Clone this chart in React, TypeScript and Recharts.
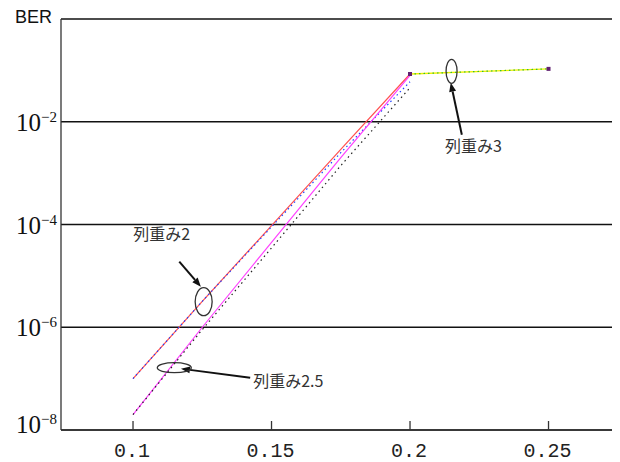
import React from "react";
import {
  LineChart,
  Line,
  XAxis,
  YAxis,
  CartesianGrid,
  ReferenceDot,
  ReferenceLine,
} from "recharts";

// column weight 2 / 2.5 share the same x positions
const snrX = [0.1, 0.125, 0.15, 0.175, 0.2];
const w2Red = [1.0e-7, 3.2e-6, 9.5e-5, 2.9e-3, 8.5e-2];
const w2Blue = [1.0e-7, 3.2e-6, 9.0e-5, 2.5e-3, 6.0e-2];
const w25Magenta = [2.0e-8, 1.0e-6, 4.5e-5, 2.0e-3, 8.0e-2];
const w25Black = [2.0e-8, 9.0e-7, 3.5e-5, 1.4e-3, 4.6e-2];

// column weight 3
const w3X = [0.2, 0.25];
const w3Yellow = [8.5e-2, 1.07e-1];
const w3Green = [8.5e-2, 1.07e-1];

const xTicks = [0.1, 0.15, 0.2, 0.25];
const xTopTicks = [0.124, 0.174, 0.224, 0.274];
const yTicks = [1e-8, 1e-6, 1e-4, 1e-2];

// annotations (data coordinates)
const labels = [
  { text: "列重み2", x: 0.1001, y: 6.6e-5 },
  { text: "列重み2.5", x: 0.1434, y: 9.1e-8 },
  { text: "列重み3", x: 0.2126, y: 3.4e-3 },
];
const ellipses = [
  { x: 0.1255, y: 3.14e-6, rx: 8.5, ry: 14 },
  { x: 0.1149, y: 1.63e-7, rx: 17, ry: 5 },
  { x: 0.215, y: 9.6e-2, rx: 5.5, ry: 12 },
];
const arrows = [
  { from: { x: 0.1167, y: 1.89e-5 }, to: { x: 0.1245, y: 6.15e-6 } },
  { from: { x: 0.1423, y: 1.04e-7 }, to: { x: 0.1173, y: 1.56e-7 } },
  { from: { x: 0.2187, y: 5.6e-3 }, to: { x: 0.2147, y: 5.75e-2 } },
];

const pts = (xs: number[], ys: number[]) => xs.map((x, i) => ({ x, y: ys[i] }));

const YTick = (props: any) => {
  const { x, y, payload } = props;
  const exp = Math.round(Math.log10(payload.value));
  const base = exp === -8 ? y + 3 : y + 9;
  return (
    <text x={x} y={base} textAnchor="end" fill="#111" fontFamily="'Liberation Serif', serif">
      <tspan fontSize={25}>10</tspan>
      <tspan fontSize={15} dy={-9}>{`\u2212${-exp}`}</tspan>
    </text>
  );
};

const XTick = (props: any) => {
  const { x, y, payload } = props;
  return (
    <text
      x={x - 1}
      y={y + 34}
      textAnchor="middle"
      fill="#222"
      fontSize={20}
      fontFamily="'Liberation Mono', monospace"
    >
      {String(payload.value)}
    </text>
  );
};

const Arrow = (props: any) => {
  const { x1, y1, x2, y2 } = props;
  const a = Math.atan2(y2 - y1, x2 - x1);
  const len = 9;
  const half = 3.5;
  const bx = x2 - len * Math.cos(a);
  const by = y2 - len * Math.sin(a);
  const p = `${x2},${y2} ${bx + half * Math.sin(a)},${by - half * Math.cos(a)} ${bx - half * Math.sin(a)},${by + half * Math.cos(a)}`;
  return (
    <g>
      <line x1={x1} y1={y1} x2={bx} y2={by} stroke="#111" strokeWidth={2} />
      <polygon points={p} fill="#111" />
    </g>
  );
};

const SquareDot = (props: any) => (
  <rect key={props.index} x={props.cx - 2} y={props.cy - 2} width={4} height={4} fill="#602070" />
);

export default function App() {
  return (
    <div style={{ position: "relative", width: 612, height: 454 }}>
      <div
        style={{
          position: "absolute",
          left: 7,
          top: 0,
          fontFamily: "'Liberation Sans', Arial, sans-serif",
          fontSize: 18,
          lineHeight: "18px",
          color: "#111",
        }}
      >
        BER
      </div>
      <LineChart width={612} height={454} margin={{ top: 11, right: 5, bottom: 0, left: 0 }}>
        <CartesianGrid vertical={false} stroke="#111" strokeWidth={1.3} />
        <XAxis
          dataKey="x"
          type="number"
          domain={[0.074, 0.274]}
          allowDataOverflow
          ticks={xTicks}
          tick={<XTick />}
          tickSize={-9}
          tickMargin={2}
          height={32}
          stroke="#333"
          strokeWidth={1.3}
        />
        <XAxis
          xAxisId="top"
          orientation="top"
          type="number"
          domain={[0.074, 0.274]}
          allowDataOverflow
          ticks={xTopTicks}
          tick={false}
          mirror
          tickSize={3}
          height={0}
          stroke="#333"
          strokeWidth={1.3}
        />
        <YAxis
          type="number"
          scale="log"
          domain={[1e-8, 1]}
          allowDataOverflow
          ticks={yTicks}
          tick={<YTick />}
          tickLine={false}
          tickSize={0}
          tickMargin={4}
          width={53}
          stroke="#333"
          strokeWidth={1.3}
        />
        <Line data={pts(snrX, w2Red)} dataKey="y" stroke="#ff5050" strokeWidth={1.2} dot={false} isAnimationActive={false} />
        <Line data={pts(snrX, w2Blue)} dataKey="y" stroke="#2040ff" strokeWidth={1.2} strokeDasharray="1.5 3" dot={false} isAnimationActive={false} />
        <Line data={pts(snrX, w25Magenta)} dataKey="y" stroke="#ff40ff" strokeWidth={1.2} dot={false} isAnimationActive={false} />
        <Line data={pts(snrX, w25Black)} dataKey="y" stroke="#222" strokeWidth={1.2} strokeDasharray="1.5 3.5" dot={false} isAnimationActive={false} />
        <Line data={pts(w3X, w3Yellow)} dataKey="y" stroke="#f0f000" strokeWidth={1.3} dot={<SquareDot />} isAnimationActive={false} />
        <Line data={pts(w3X, w3Green)} dataKey="y" stroke="#30c030" strokeWidth={1.2} strokeDasharray="1.5 3" dot={false} isAnimationActive={false} />
        {ellipses.map((e, i) => (
          <ReferenceDot
            key={`e${i}`}
            x={e.x}
            y={e.y}
            r={1}
            shape={(p: any) => (
              <ellipse cx={p.cx} cy={p.cy} rx={e.rx} ry={e.ry} fill="none" stroke="#333" strokeWidth={1.3} />
            )}
          />
        ))}
        {arrows.map((a, i) => (
          <ReferenceLine key={`a${i}`} segment={[a.from, a.to]} shape={<Arrow />} />
        ))}
        {labels.map((l, i) => (
          <ReferenceDot
            key={`l${i}`}
            x={l.x}
            y={l.y}
            r={1}
            shape={(p: any) => (
              <text x={p.cx} y={p.cy + 6} fontSize={16} fill="#333" fontFamily="'Noto Sans CJK JP', sans-serif">
                {l.text}
              </text>
            )}
          />
        ))}
      </LineChart>
    </div>
  );
}
